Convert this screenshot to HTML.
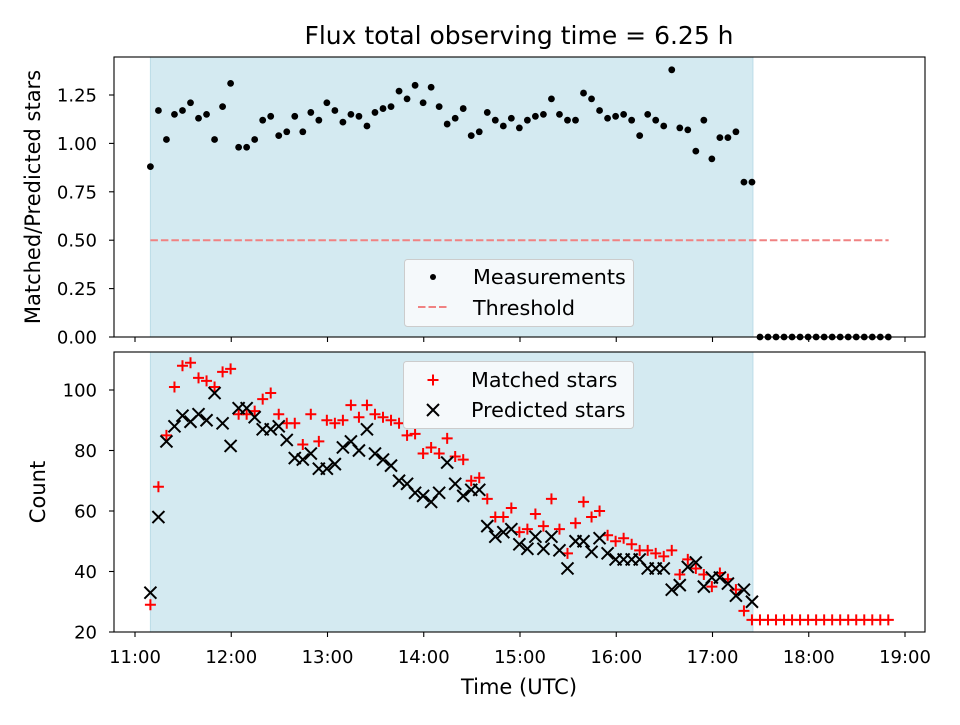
<!DOCTYPE html>
<html><head><meta charset="utf-8"><style>
body{margin:0;background:#fff;}
svg text{font-family:"DejaVu Sans","Liberation Sans",sans-serif;fill:#000;}
</style></head><body>
<svg id="chart" width="960" height="720" xmlns="http://www.w3.org/2000/svg">
<rect width="960" height="720" fill="#fff"/>
<text x="519" y="44" font-size="25" text-anchor="middle">Flux total observing time = 6.25 h</text>
<g id="topAx"></g><g id="botAx"></g>
<text x="519" y="694" font-size="21" text-anchor="middle">Time (UTC)</text>
<text transform="translate(40,197) rotate(-90)" font-size="21" text-anchor="middle">Matched/Predicted stars</text>
<text transform="translate(45,492) rotate(-90)" font-size="21" text-anchor="middle">Count</text>
</svg>
<script>
const ratioValues=[0.88,1.17,1.02,1.15,1.17,1.21,1.13,1.15,1.02,1.19,1.31,0.98,0.98,1.02,1.12,1.14,1.04,1.06,1.14,1.06,1.16,1.12,1.21,1.17,1.11,1.15,1.14,1.09,1.16,1.18,1.19,1.27,1.23,1.30,1.21,1.29,1.19,1.10,1.13,1.18,1.04,1.06,1.16,1.12,1.09,1.13,1.08,1.12,1.14,1.15,1.23,1.15,1.12,1.12,1.26,1.23,1.17,1.13,1.14,1.15,1.12,1.04,1.15,1.12,1.09,1.38,1.08,1.07,0.96,1.12,0.92,1.03,1.03,1.06,0.80,0.80,0,0,0,0,0,0,0,0,0,0,0,0,0,0,0,0,0];
const matchedValues=[29,68,85,101,108,109,104,103,101,106,107,92,92,93,97,99,92,89,89,82,92,83,90,89,90,95,91,95,92,91,90,89,85,85.5,79,81,79,84,78,77,70,71,64,58,58,61,53,54,59,55,64,54,46,56,63,58,60,52,50,51,49,47,47,46,45,47,39,44,41,39,35,39.5,37.5,34,27,24,24,24,24,24,24,24,24,24,24,24,24,24,24,24,24,24,24];
const predictedValues=[33,58,83,88,91.5,89.5,92,90,99,89,81.5,94,94,91,87,87,88,83.5,77.5,77,79,74,74,75.5,81,83,80,87,79,77,75,70,69,66,65,63,66,76,69,65,67,67,55,51.5,53,54,49,47.5,51.5,47.5,51.5,47,41,50,50,46.5,51,46,44,44,44,44,41,41,41,34,35.5,41.5,43,35,38,38,36,32,34,30];
const startHour=11.16, stepHour=5/60;
const shadeStart=11.16, shadeEnd=17.42, threshold=0.5, thresholdEnd=18.83;
const xTicks=["11:00","12:00","13:00","14:00","15:00","16:00","17:00","18:00","19:00"];
const topTicks=[0,0.25,0.5,0.75,1.0,1.25];
const botTicks=[20,40,60,80,100];

const NS="http://www.w3.org/2000/svg";
const L=114,R=925;
const xs=h=>135+(h-11)*96.25;
const yTop=v=>337-v*193.6;
const yBot=v=>632-(v-20)*3.025;
function mk(p,t,a){const e=document.createElementNS(NS,t);for(const k in a)e.setAttribute(k,a[k]);p.appendChild(e);return e;}
const gTop=document.getElementById('topAx'), gBot=document.getElementById('botAx');

function axes(g,y0,y1,yt,yf,fmt,labels,nm){
  const sh=mk(g,'rect',{x:xs(shadeStart),y:y0,width:xs(shadeEnd)-xs(shadeStart),height:y1-y0,fill:'#d4eaf1',stroke:'#bcdde8'});
  
  
  xTicks.forEach((t,i)=>{const x=xs(11+i);
    mk(g,'line',{x1:x,x2:x,y1:y1,y2:y1+5,stroke:'#000','stroke-width':1.1});
    if(labels){const tx=mk(g,'text',{x:x,y:y1+31,'font-size':18,'text-anchor':'middle'});tx.textContent=t;
      
      }
  });
  yt.forEach(v=>{const y=yf(v);
    mk(g,'line',{x1:L-5,x2:L,y1:y,y2:y,stroke:'#000','stroke-width':1.1});
    const tx=mk(g,'text',{x:L-17,y:y+6.5,'font-size':18,'text-anchor':'end'});tx.textContent=fmt(v);
    
    
  });
}
axes(gTop,57,337,topTicks,yTop,v=>v.toFixed(2),false,'top');
axes(gBot,352,632,botTicks,yBot,v=>String(v),true,'bottom');

const th=mk(gTop,'line',{x1:xs(shadeStart),x2:xs(thresholdEnd),y1:yTop(threshold),y2:yTop(threshold),stroke:'#f08282','stroke-width':2,'stroke-dasharray':'7.5,3'});


ratioValues.forEach((v,i)=>{
  const c=mk(gTop,'circle',{cx:xs(startHour+i*stepHour),cy:yTop(v),r:3.4,fill:'#000'});
  
  
});
function plus(g,x,y){return mk(g,'path',{d:`M${x-5.5},${y}H${x+5.5}M${x},${y-5.5}V${y+5.5}`,stroke:'#ff0000','stroke-width':2});}
function cross(g,x,y){return mk(g,'path',{d:`M${x-6},${y-6}L${x+6},${y+6}M${x-6},${y+6}L${x+6},${y-6}`,stroke:'#000','stroke-width':2});}
matchedValues.forEach((v,i)=>{const p=plus(gBot,xs(startHour+i*stepHour),yBot(v));
  
  });
predictedValues.forEach((v,i)=>{const p=cross(gBot,xs(startHour+i*stepHour),yBot(v));
  
  });
mk(gTop,'rect',{x:L,y:57,width:R-L,height:280,fill:'none',stroke:'#000','stroke-width':1.1});
mk(gBot,'rect',{x:L,y:352,width:R-L,height:280,fill:'none',stroke:'#000','stroke-width':1.1});
const lg1=mk(gTop,'g',{});


mk(lg1,'rect',{x:404.5,y:259.5,width:229,height:67,rx:3,fill:'#f5f9fb',stroke:'#ccc'});
mk(lg1,'circle',{cx:433,cy:277,r:3,fill:'#000'});
let t=mk(lg1,'text',{x:473,y:284,'font-size':20.7});t.textContent='Measurements';
mk(lg1,'line',{x1:418,x2:448,y1:307,y2:307,stroke:'#f08282','stroke-width':2,'stroke-dasharray':'7.5,3'});
t=mk(lg1,'text',{x:473,y:315,'font-size':20.7});t.textContent='Threshold';
const lg2=mk(gBot,'g',{});


mk(lg2,'rect',{x:403.5,y:361.5,width:230,height:67,rx:3,fill:'#f5f9fb',stroke:'#ccc'});
plus(lg2,433,380);
t=mk(lg2,'text',{x:471,y:387,'font-size':20.7});t.textContent='Matched stars';
cross(lg2,433,410);
t=mk(lg2,'text',{x:471,y:417,'font-size':20.7});t.textContent='Predicted stars';
</script>
</body></html>
